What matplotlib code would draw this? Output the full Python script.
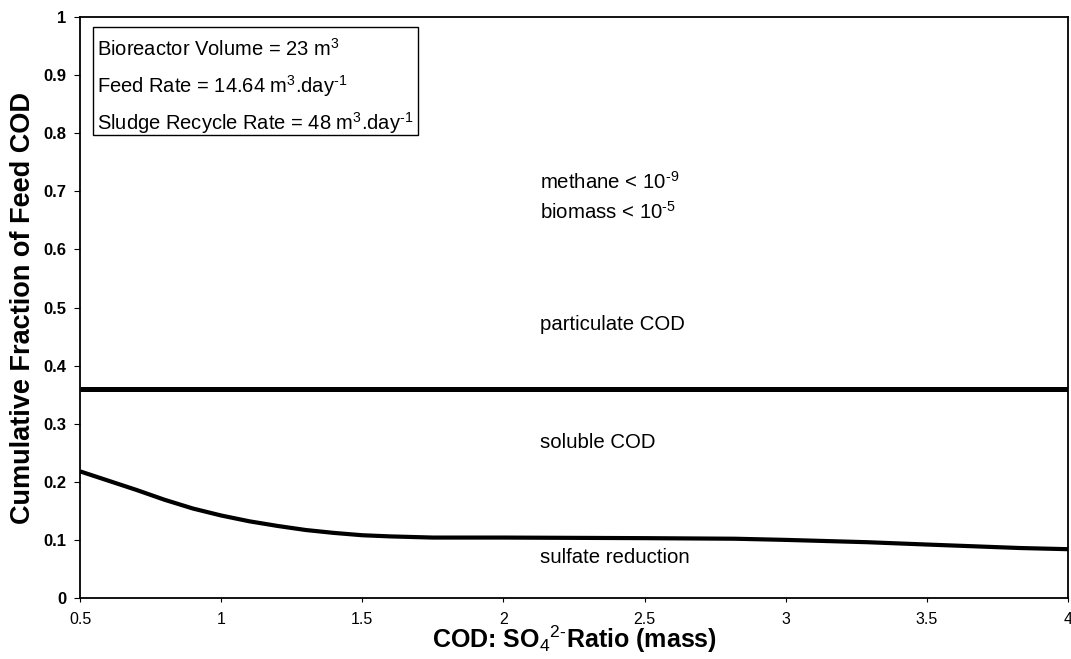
import matplotlib
matplotlib.use("Agg")
import matplotlib.pyplot as plt
from matplotlib.patches import Rectangle

plt.rcParams['font.family'] = ['Liberation Sans', 'DejaVu Sans']
plt.rcParams['mathtext.fontset'] = 'custom'
plt.rcParams['mathtext.rm'] = 'Liberation Sans'
plt.rcParams['mathtext.it'] = 'Liberation Sans:italic'
plt.rcParams['mathtext.bf'] = 'Liberation Sans:bold'

# COD:SO4 ratio vs cumulative fraction of feed COD
ratio = [0.5, 0.6, 0.7, 0.8, 0.9, 1.0, 1.1, 1.2, 1.3, 1.4, 1.5, 1.6, 1.75,
         2.0, 2.5, 2.82, 3.0, 3.29, 3.5, 3.83, 4.0]
sulfate_top = [0.218, 0.202, 0.186, 0.169, 0.154, 0.142, 0.132, 0.124, 0.117, 0.112,
               0.108, 0.106, 0.104, 0.104, 0.103, 0.102, 0.100, 0.096, 0.092, 0.086, 0.084]
soluble_top = [0.359] * len(ratio)

xticks = [0.5, 1, 1.5, 2, 2.5, 3, 3.5, 4]
yticks = [0, 0.1, 0.2, 0.3, 0.4, 0.5, 0.6, 0.7, 0.8, 0.9, 1]
ytick_labels = ['0', '0.1', '0.2', '0.3', '0.4', '0.5', '0.6', '0.7', '0.8', '0.9', '1']

HY = '\u2010'  # short hyphen for the exponents
box_lines = ['Bioreactor Volume = 23 m$^{3}$',
             'Feed Rate = 14.64 m$^{3}$.day$^{' + HY + '1}$',
             'Sludge Recycle Rate = 48 m$^{3}$.day$^{' + HY + '1}$']
regions = [('methane < 10$^{' + HY + '9}$', 0.716),
           ('biomass < 10$^{' + HY + '5}$', 0.664),
           ('particulate COD', 0.470),
           ('soluble COD', 0.267),
           ('sulfate reduction', 0.069)]

fig = plt.figure(figsize=(10.71, 6.59), dpi=100)
ax = fig.add_axes([0.0747, 0.0926, 0.9225, 0.8814])

ax.plot(ratio, soluble_top, color='black', lw=3.6, solid_capstyle='butt')
ax.plot(ratio, sulfate_top, color='black', lw=3.0, solid_capstyle='butt')

ax.set_xlim(0.5, 4)
ax.set_ylim(0, 1)
ax.set_xticks(xticks)
ax.set_xticklabels([str(t) for t in xticks], fontsize=11.5)
ax.set_yticks(yticks)
ax.set_yticklabels(ytick_labels, fontsize=12, fontweight='bold')
ax.tick_params(axis='x', direction='out', length=3, pad=7)
ax.tick_params(axis='y', direction='out', length=4, pad=6)
for s in ax.spines.values():
    s.set_linewidth(1.3)

ax.set_xlabel('COD: SO$_{4}$$^{2' + HY + '}$Ratio (mass)', fontsize=18, fontweight='bold', labelpad=-2.5)
ax.set_ylabel('Cumulative Fraction of Feed COD', fontsize=19.5, fontweight='bold', labelpad=5)

# parameter box
ax.add_patch(Rectangle((0.013, 0.797), 0.329, 0.186, transform=ax.transAxes,
                       fill=False, edgecolor='black', lw=1.0))
for txt, yy in zip(box_lines, [0.946, 0.881, 0.817]):
    ax.text(0.017, yy, txt, transform=ax.transAxes, fontsize=14.5, va='center', ha='left')

for txt, yy in regions:
    ax.text(2.13, yy, txt, fontsize=14.7, va='center', ha='left')

fig.savefig('out.png', dpi=100)
